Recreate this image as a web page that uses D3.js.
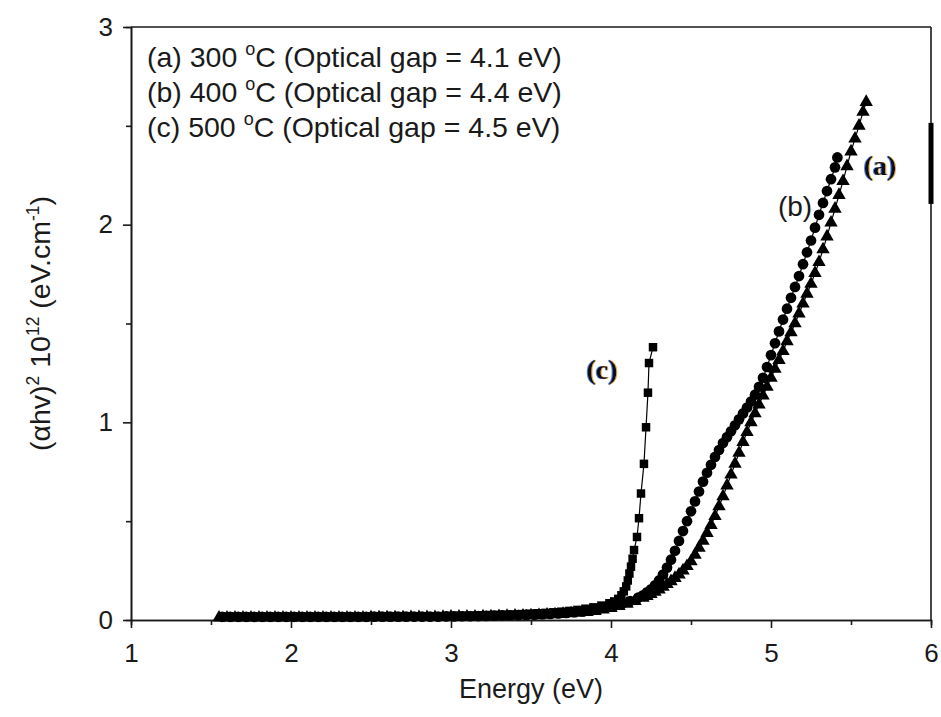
<!DOCTYPE html>
<html>
<head>
<meta charset="utf-8">
<script src="https://cdn.jsdelivr.net/npm/d3@7"></script>
<style>
  body { margin: 0; background: #fff; }
  svg { display: block; }
</style>
</head>
<body>
<svg id="chart" width="941" height="717"></svg>
<script>
// Tauc plot: (alpha h nu)^2 versus photon energy for films annealed at three temperatures

const energyTicks = [1, 2, 3, 4, 5, 6];
const energyMinorTicks = [1.5, 2.5, 3.5, 4.5, 5.5];
const taucTicks = [0, 1, 2, 3];
const taucMinorTicks = [0.5, 1.5, 2.5];

const legendTemps = ["(a) 300", "(b) 400", "(c) 500"];
const legendGaps = ["4.1", "4.4", "4.5"];
const curveTags = ["(a)", "(b)", "(c)"];

// (a) 300 °C — triangles  [energy eV, (αhν)² ×10¹²]
const series300 = [
  [1.55,0.012],[1.60,0.012],[1.65,0.012],[1.70,0.012],[1.75,0.012],[1.80,0.012],[1.85,0.012],
  [1.90,0.012],[1.95,0.012],[2.00,0.012],[2.05,0.012],[2.10,0.012],[2.15,0.012],[2.20,0.012],
  [2.25,0.012],[2.30,0.012],[2.35,0.012],[2.40,0.012],[2.45,0.012],[2.50,0.013],[2.55,0.013],
  [2.60,0.013],[2.65,0.013],[2.70,0.013],[2.75,0.014],[2.80,0.014],[2.85,0.014],[2.90,0.014],
  [2.95,0.015],[3.00,0.016],[3.05,0.016],[3.10,0.017],[3.15,0.017],[3.20,0.018],[3.25,0.018],
  [3.30,0.019],[3.35,0.020],[3.40,0.021],[3.45,0.022],[3.50,0.023],[3.55,0.024],[3.60,0.026],
  [3.65,0.028],[3.70,0.030],[3.75,0.033],[3.80,0.036],[3.85,0.040],[3.90,0.045],[3.95,0.052],
  [4.00,0.060],[4.05,0.070],[4.10,0.082],[4.15,0.096],[4.20,0.112],
  [4.225,0.121],[4.25,0.131],[4.275,0.142],[4.30,0.154],[4.325,0.167],[4.35,0.181],[4.375,0.196],
  [4.40,0.212],[4.425,0.230],[4.45,0.250],[4.475,0.272],[4.50,0.296],[4.525,0.330],[4.55,0.365],
  [4.575,0.400],[4.60,0.440],[4.625,0.480],[4.65,0.525],[4.675,0.575],[4.70,0.625],[4.725,0.680],
  [4.75,0.735],[4.775,0.790],[4.80,0.845],[4.825,0.900],[4.85,0.950],[4.875,1.000],[4.90,1.045],
  [4.925,1.090],[4.95,1.135],[4.975,1.180],[5.00,1.225],[5.025,1.270],[5.05,1.315],[5.075,1.360],
  [5.10,1.410],[5.125,1.455],[5.15,1.500],[5.175,1.550],[5.20,1.600],[5.225,1.650],[5.25,1.700],
  [5.275,1.755],[5.30,1.810],[5.325,1.875],[5.35,1.940],[5.375,2.010],[5.40,2.080],[5.425,2.150],
  [5.45,2.220],[5.475,2.295],[5.50,2.370],[5.525,2.435],[5.55,2.500],[5.575,2.570],[5.595,2.620]
];

// (b) 400 °C — circles
const series400 = [
  [1.57,0.016],[1.62,0.016],[1.67,0.016],[1.72,0.016],[1.77,0.016],[1.82,0.016],[1.87,0.016],
  [1.92,0.016],[1.97,0.016],[2.02,0.016],[2.07,0.016],[2.12,0.016],[2.17,0.016],[2.22,0.016],
  [2.27,0.016],[2.32,0.016],[2.37,0.016],[2.42,0.016],[2.47,0.016],[2.52,0.017],[2.57,0.017],
  [2.62,0.017],[2.67,0.017],[2.72,0.017],[2.77,0.017],[2.82,0.017],[2.87,0.017],[2.92,0.017],
  [2.97,0.018],[3.02,0.018],[3.07,0.019],[3.12,0.019],[3.17,0.020],[3.22,0.021],[3.27,0.022],
  [3.32,0.023],[3.37,0.024],[3.42,0.025],[3.47,0.026],[3.52,0.027],[3.57,0.029],[3.62,0.031],
  [3.67,0.033],[3.72,0.036],[3.77,0.040],[3.82,0.044],[3.87,0.049],[3.92,0.055],[3.97,0.063],
  [4.02,0.072],[4.07,0.083],[4.12,0.096],[4.17,0.113],
  [4.20,0.125],[4.225,0.140],[4.25,0.155],[4.275,0.175],[4.30,0.200],[4.325,0.230],[4.35,0.265],
  [4.375,0.305],[4.40,0.350],[4.425,0.400],[4.45,0.450],[4.475,0.500],[4.50,0.550],[4.525,0.600],
  [4.55,0.650],[4.575,0.700],[4.60,0.745],[4.625,0.785],[4.65,0.825],[4.675,0.860],[4.70,0.895],
  [4.725,0.925],[4.75,0.955],[4.775,0.985],[4.80,1.015],[4.825,1.045],[4.85,1.075],[4.875,1.105],
  [4.90,1.140],[4.925,1.180],[4.95,1.225],[4.975,1.280],[5.00,1.340],[5.025,1.400],[5.05,1.460],
  [5.075,1.520],[5.10,1.575],[5.125,1.630],[5.15,1.685],[5.175,1.740],[5.20,1.800],[5.225,1.860],
  [5.25,1.920],[5.275,1.985],[5.30,2.050],[5.325,2.110],[5.35,2.170],[5.375,2.230],[5.40,2.290],
  [5.415,2.340]
];

// (c) 500 °C — squares
const series500 = [
  [1.59,0.018],[1.64,0.018],[1.69,0.018],[1.74,0.018],[1.79,0.018],[1.84,0.018],[1.89,0.018],
  [1.94,0.018],[1.99,0.018],[2.04,0.018],[2.09,0.018],[2.14,0.018],[2.19,0.018],[2.24,0.018],
  [2.29,0.018],[2.34,0.018],[2.39,0.018],[2.44,0.018],[2.49,0.018],[2.54,0.019],[2.59,0.019],
  [2.64,0.019],[2.69,0.019],[2.74,0.019],[2.79,0.019],[2.84,0.019],[2.89,0.019],[2.94,0.019],
  [2.99,0.021],[3.04,0.022],[3.09,0.022],[3.14,0.023],[3.19,0.024],[3.24,0.025],[3.29,0.026],
  [3.34,0.027],[3.39,0.028],[3.44,0.030],[3.49,0.032],[3.54,0.034],[3.59,0.036],[3.64,0.039],
  [3.69,0.042],[3.74,0.046],[3.79,0.051],[3.84,0.057],[3.89,0.064],[3.94,0.073],[3.99,0.085],
  [4.02,0.094],[4.045,0.107],[4.065,0.125],[4.08,0.145],[4.095,0.170],[4.105,0.200],[4.115,0.235],
  [4.125,0.270],[4.135,0.310],[4.144,0.354],[4.1625,0.420],[4.175,0.515],[4.1875,0.640],
  [4.206,0.790],[4.219,0.975],[4.231,1.150],[4.2375,1.300],[4.2625,1.380]
];

const svg = d3.select("#chart");
const sans = "'Liberation Sans', Arial, Helvetica, sans-serif";
const serif = "'Liberation Serif', 'Times New Roman', serif";

const x = d3.scaleLinear().domain([1, 6]).range([131, 931]);
const y = d3.scaleLinear().domain([0, 3]).range([620, 27]);

const axisColor = "#1a1a1a";

// colour fringe for the bold serif tags
const defs = svg.append("defs");
const fringe = defs.append("filter").attr("id", "fringe")
  .attr("x", "-20%").attr("y", "-20%").attr("width", "140%").attr("height", "140%");
fringe.append("feFlood").attr("flood-color", "#3a6fd0").attr("flood-opacity", 0.85).attr("result", "blue");
fringe.append("feOffset").attr("in", "SourceAlpha").attr("dx", -1.4).attr("dy", 0).attr("result", "shiftL");
fringe.append("feComposite").attr("in", "blue").attr("in2", "shiftL").attr("operator", "in").attr("result", "blueEdge");
fringe.append("feFlood").attr("flood-color", "#e3a32e").attr("flood-opacity", 0.85).attr("result", "orange");
fringe.append("feOffset").attr("in", "SourceAlpha").attr("dx", 1.4).attr("dy", 0).attr("result", "shiftR");
fringe.append("feComposite").attr("in", "orange").attr("in2", "shiftR").attr("operator", "in").attr("result", "orangeEdge");
const merge = fringe.append("feMerge");
merge.append("feMergeNode").attr("in", "blueEdge");
merge.append("feMergeNode").attr("in", "orangeEdge");
merge.append("feMergeNode").attr("in", "SourceGraphic");

// ---- frame (top and right edges) ----
svg.append("line")
  .attr("x1", x(1)).attr("x2", x(6)).attr("y1", y(3)).attr("y2", y(3))
  .attr("stroke", axisColor).attr("stroke-width", 1.6);
svg.append("line")
  .attr("x1", x(6)).attr("x2", x(6)).attr("y1", y(3)).attr("y2", y(0))
  .attr("stroke", axisColor).attr("stroke-width", 1.6);
// heavy stroke along the right edge
svg.append("line")
  .attr("x1", x(6)).attr("x2", x(6)).attr("y1", y(2.515)).attr("y2", y(2.105))
  .attr("stroke", "#000").attr("stroke-width", 5);

// ---- axes ----
function styleAxis(g) {
  g.selectAll(".domain").attr("stroke", axisColor).attr("stroke-width", 1.6);
  g.selectAll(".tick line").attr("stroke", axisColor).attr("stroke-width", 1.6);
  g.selectAll(".tick text")
    .attr("fill", "#1a1a1a")
    .style("font-family", sans)
    .style("font-size", "26px");
}

svg.append("g")
  .attr("transform", `translate(0,${y(0)})`)
  .call(d3.axisBottom(x).tickValues(energyMinorTicks).tickSize(5).tickFormat(""))
  .call(styleAxis);
svg.append("g")
  .attr("transform", `translate(0,${y(0)})`)
  .call(d3.axisBottom(x).tickValues(energyTicks).tickSize(8).tickSizeOuter(0)
    .tickPadding(16).tickFormat(d3.format("d")))
  .call(styleAxis);

svg.append("g")
  .attr("transform", `translate(${x(1)},0)`)
  .call(d3.axisLeft(y).tickValues(taucMinorTicks).tickSize(5).tickFormat(""))
  .call(styleAxis);
svg.append("g")
  .attr("transform", `translate(${x(1)},0)`)
  .call(d3.axisLeft(y).tickValues(taucTicks).tickSize(8).tickSizeOuter(0)
    .tickPadding(10).tickFormat(d3.format("d")))
  .call(styleAxis);

// ---- axis titles ----
svg.append("text")
  .attr("x", (x(1) + x(6)) / 2).attr("y", 698)
  .attr("text-anchor", "middle")
  .style("font-family", sans).style("font-size", "27px").attr("fill", "#1a1a1a")
  .text("Energy (eV)");

const yTitle = svg.append("text")
  .attr("transform", `translate(50,${(y(0) + y(3)) / 2}) rotate(-90)`)
  .attr("text-anchor", "middle")
  .style("font-family", sans).style("font-size", "28.5px").attr("fill", "#1a1a1a");
yTitle.append("tspan").text("(αhv)");
yTitle.append("tspan").attr("dy", -11).style("font-size", "17.5px").text("2");
yTitle.append("tspan").attr("dy", 11).text(" 10");
yTitle.append("tspan").attr("dy", -11).style("font-size", "17.5px").text("12");
yTitle.append("tspan").attr("dy", 11).text(" (eV.cm");
yTitle.append("tspan").attr("dy", -11).style("font-size", "17.5px").text("-1");
yTitle.append("tspan").attr("dy", 11).text(")");

// ---- series ----
const plot = svg.append("g");
const line = d3.line().x(d => x(d[0])).y(d => y(d[1]));

const seriesDefs = [
  { data: series300, symbol: d3.symbolTriangle, size: 78 },
  { data: series400, symbol: d3.symbolCircle, size: 90 },
  { data: series500, symbol: d3.symbolSquare, size: 72 }
];

seriesDefs.forEach(s => {
  plot.append("path")
    .attr("d", line(s.data))
    .attr("fill", "none").attr("stroke", "#000").attr("stroke-width", 1.2);
  plot.selectAll(null)
    .data(s.data)
    .enter().append("path")
    .attr("transform", d => `translate(${x(d[0])},${y(d[1])})`)
    .attr("d", d3.symbol().type(s.symbol).size(s.size))
    .attr("fill", "#000");
});

// ---- legend text ----
const legend = svg.append("g");
legendTemps.forEach((t, i) => {
  const txt = legend.append("text")
    .attr("x", 147).attr("y", 67 + i * 35)
    .style("font-family", sans).style("font-size", "28.5px").attr("fill", "#1a1a1a");
  txt.append("tspan").text(t + " ");
  txt.append("tspan").attr("dy", -12).style("font-size", "18px").text("o");
  txt.append("tspan").attr("dy", 12).text(`C (Optical gap = ${legendGaps[i]} eV)`);
});

// ---- curve tags ----
function fringedTag(label, cx, cy) {
  svg.append("text")
    .attr("x", cx).attr("y", cy)
    .attr("text-anchor", "middle")
    .attr("filter", "url(#fringe)")
    .style("font-family", serif).style("font-size", "28px").style("font-weight", "bold")
    .attr("fill", "#101020")
    .text(label);
}
fringedTag(curveTags[0], 880, 175);
fringedTag(curveTags[2], 602, 379);

svg.append("text")
  .attr("x", 795).attr("y", 216)
  .attr("text-anchor", "middle")
  .style("font-family", sans).style("font-size", "28px").attr("fill", "#1a1a1a")
  .text(curveTags[1]);
</script>
</body>
</html>
